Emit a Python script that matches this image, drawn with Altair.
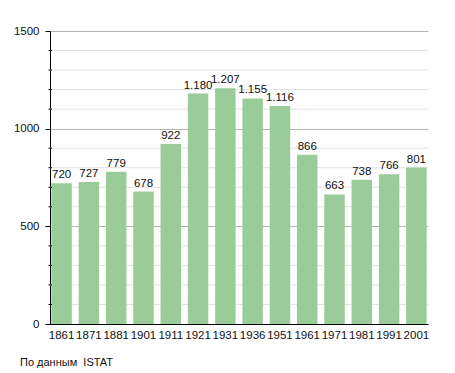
import altair as alt
import pandas as pd

years = ["1861", "1871", "1881", "1901", "1911", "1921", "1931", "1936", "1951", "1961", "1971", "1981", "1991", "2001"]
values = [720, 727, 779, 678, 922, 1180, 1207, 1155, 1116, 866, 663, 738, 766, 801]
labels = ["720", "727", "779", "678", "922", "1.180", "1.207", "1.155", "1.116", "866", "663", "738", "766", "801"]
major_ticks = [0, 500, 1000, 1500]
minor_ticks = [100, 200, 300, 400, 600, 700, 800, 900, 1100, 1200, 1300, 1400]
source = "По данным\u00a0 ISTAT"

W, H = 378, 293
FONT = "Liberation Sans"

df = pd.DataFrame({"year": years, "value": values, "label": labels})
dminor = pd.DataFrame({"value": minor_ticks})
dsrc = pd.DataFrame({"t": [source]})

yenc = alt.Y(
    "value:Q",
    scale=alt.Scale(domain=[0, 1500], nice=False),
    axis=alt.Axis(
        values=major_ticks, format="d", title=None, grid=True, gridColor="#b4b4b4", gridWidth=1,
        domain=True, domainColor="black", tickColor="black", tickSize=5,
        labelFont=FONT, labelFontSize=11.5, labelColor="#111", labelPadding=6,
    ),
)
xenc = alt.X(
    "year:N", sort=years,
    scale=alt.Scale(paddingInner=0.25, paddingOuter=0.05),
    axis=alt.Axis(
        title=None, labelAngle=0, ticks=False, domain=True, domainColor="black",
        labelFont=FONT, labelFontSize=11.5, labelColor="#111", labelPadding=5,
    ),
)

minor_grid = alt.Chart(dminor).mark_rule(color="#e2e2e2", strokeWidth=1).encode(
    y=yenc, x=alt.value(0), x2=alt.value(W)
)
minor_tk = alt.Chart(dminor).mark_rule(color="black", strokeWidth=1).encode(
    y=yenc, x=alt.value(-1.5), x2=alt.value(2)
)
bars = alt.Chart(df).mark_bar(color="#99cc99").encode(x=xenc, y=yenc)
text = alt.Chart(df).mark_text(
    baseline="bottom", dy=-3, font=FONT, fontSize=11.5, color="#111"
).encode(x=xenc, y=yenc, text="label:N")
src = alt.Chart(dsrc).mark_text(
    align="left", baseline="alphabetic", font=FONT, fontSize=11, color="#111"
).encode(x=alt.value(-30), y=alt.value(H + 42), text="t:N")

chart = alt.layer(minor_grid, bars, minor_tk, text, src).properties(
    width=W, height=H,
    autosize=alt.AutoSizeParams(type="none"),
    padding={"left": 42, "top": 23, "right": 19, "bottom": 52},
).configure_view(stroke=None)

chart.save("out.html", embed_options={"renderer": "svg", "actions": False})
